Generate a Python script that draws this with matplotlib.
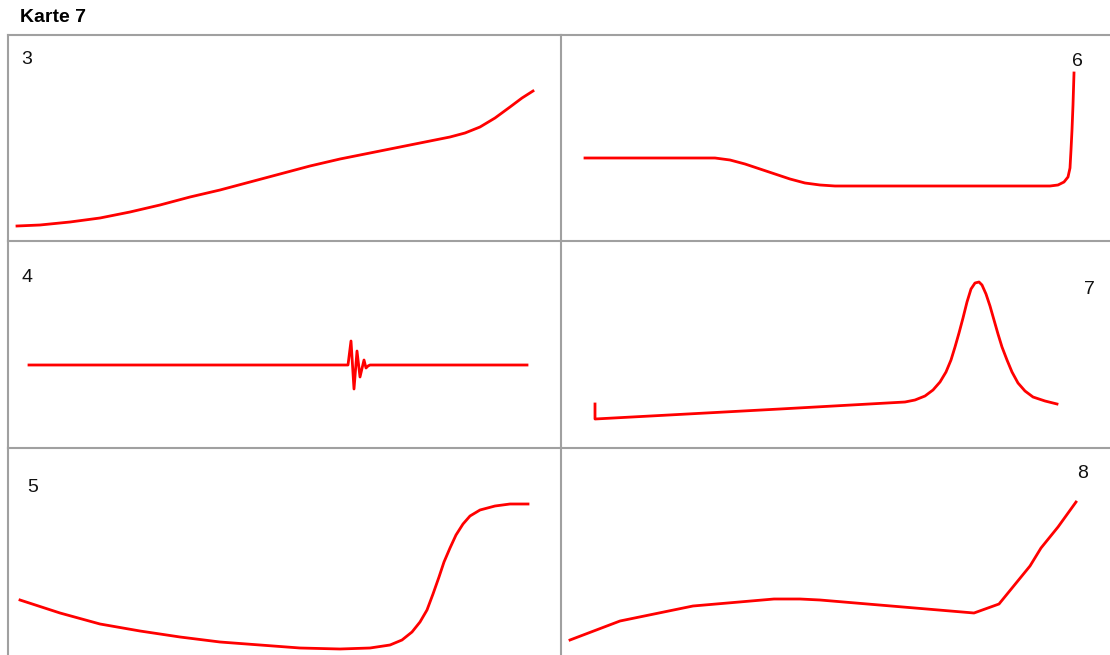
import matplotlib.pyplot as plt

# Dati: ogni pannello ha x e y in unita' locali
# (origine in basso a sinistra della cella).
p3_x = [9, 32, 62, 92, 122, 152, 182, 212, 242, 272, 302, 332, 362, 392, 422,
        442, 457, 472, 487, 502, 514, 525]
p3_y = [15, 16, 19, 23, 29, 36, 44, 51, 59, 67, 75, 82, 88, 94, 100,
        104, 108, 114, 123, 134, 143, 150]

p6_x = [24, 154, 169, 184, 199, 214, 229, 244, 259, 274, 489, 497, 503, 507,
        509, 510, 511, 512, 513]
p6_y = [83, 83, 81, 77, 72, 67, 62, 58, 56, 55, 55, 56, 59, 64,
        73, 91, 111, 136, 168]

p4_x = [21, 340, 343, 346, 349, 352, 356, 358, 360, 362, 519]
p4_y = [83, 83, 107, 59, 97, 71, 88, 80, 82, 83, 83]

p7_x = [34, 34, 219, 344, 354, 364, 372, 379, 385, 390, 394, 398, 402, 406,
        410, 414, 418, 421, 425, 429, 433, 437, 441, 446, 451, 457, 464, 472,
        484, 496]
p7_y = [44, 29, 39, 46, 48, 52, 58, 66, 76, 88, 101, 115, 130, 146,
        159, 165, 166, 163, 154, 142, 128, 114, 101, 88, 76, 65, 57, 51,
        47, 44]

p5_x = [12, 52, 92, 132, 172, 212, 252, 292, 332, 362, 382, 394, 404, 412,
        419, 425, 431, 436, 442, 448, 455, 462, 472, 487, 502, 520]
p5_y = [55, 42, 31, 24, 18, 13, 10, 7, 6, 7, 10, 15, 23, 33,
        45, 61, 78, 93, 107, 120, 131, 139, 145, 149, 151, 151]

p8_x = [9, 59, 132, 213, 239, 259, 413, 438, 469, 480, 497, 515]
p8_y = [15, 34, 49, 56, 56, 55, 42, 51, 89, 107, 128, 153]

labels = ["3", "6", "4", "7", "5", "8"]

W, H = 1110, 655
col_left = [8, 561]
col_width = [553, 549]
row_top = [35, 241, 448]
row_height = [206, 207, 207]

panels = [(p3_x, p3_y), (p6_x, p6_y), (p4_x, p4_y),
          (p7_x, p7_y), (p5_x, p5_y), (p8_x, p8_y)]
# Posizione delle etichette nella cella.
label_pos = [(19, 182), (516, 180), (19, 171), (528, 158), (25, 167), (522, 182)]

fig = plt.figure(figsize=(W / 100, H / 100), dpi=100)
fig.patch.set_facecolor("white")

for i, (xs, ys) in enumerate(panels):
    r, c = i // 2, i % 2
    w, h = col_width[c], row_height[r]
    ax = fig.add_axes([col_left[c] / W, (H - row_top[r] - h) / H, w / W, h / H])
    ax.set_xlim(0, w)
    ax.set_ylim(0, h)
    ax.set_xticks([])
    ax.set_yticks([])
    for s in ["right", "bottom"]:
        ax.spines[s].set_visible(False)
    for s in ["top", "left"]:
        ax.spines[s].set_color("#a0a0a0")
        ax.spines[s].set_linewidth(1.5)
    ax.plot(xs, ys, color="red", lw=2, solid_joinstyle="round", clip_on=False)
    lx, ly = label_pos[i]
    ax.text(lx, ly, labels[i], ha="center", va="center", fontsize=14,
            family="Liberation Sans", color="#111111")

fig.text(20 / W, 1 - 18 / H, "Karte 7", ha="left", va="center",
         fontsize=14, fontweight="bold", family="Liberation Sans")

plt.savefig("out.png", dpi=100)
